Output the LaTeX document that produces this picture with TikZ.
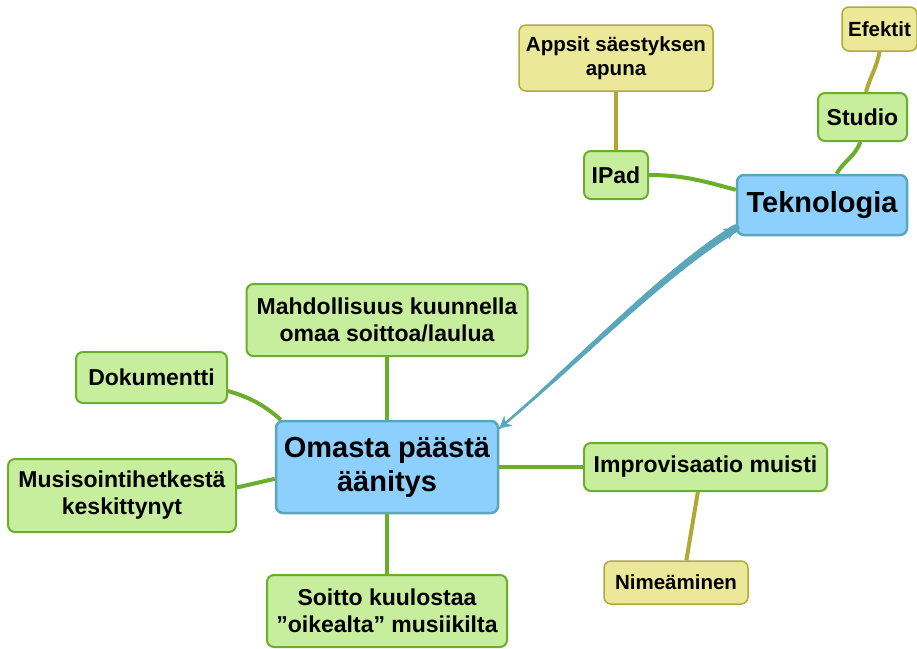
\documentclass[tikz,border=0pt]{standalone}
\usepackage{fontspec}
\setmainfont{Liberation Sans}
\usetikzlibrary{arrows.meta,decorations.markings}
\definecolor{topicfill}{HTML}{8DCFFD}
\definecolor{topicline}{HTML}{5AA7BC}
\definecolor{ideafill}{HTML}{C6EE9C}
\definecolor{idealine}{HTML}{6AAE2B}
\definecolor{notefill}{HTML}{ECE89A}
\definecolor{noteline}{HTML}{B0AA35}
\begin{document}
\begin{tikzpicture}[x=1pt, y=-1pt,
    topic/.style = {draw=topicline, fill=topicfill, line width=2.5pt, rounded corners=7pt, align=center, inner sep=0pt, font=\fontsize{29}{34}\selectfont\bfseries},
    idea/.style = {draw=idealine, fill=ideafill, line width=2pt, rounded corners=7pt, align=center, inner sep=0pt, font=\fontsize{23}{27}\selectfont\bfseries},
    note/.style = {draw=noteline, fill=notefill, line width=1.5pt, rounded corners=7pt, align=center, inner sep=0pt, font=\fontsize{20.5}{24}\selectfont\bfseries},
    branch/.style = {draw=idealine, line width=4pt},
    twig/.style = {draw=noteline, line width=4pt},
    link/.style = {postaction={decorate, decoration={markings,
        mark=between positions 0 and 1 step 1pt with {\pgfmathsetmacro\linkwd{1.4+2.6*(1-\pgfkeysvalueof{/pgf/decoration/mark info/distance from start}/\pgfdecoratedpathlength)}\fill[topicline] (0,0) circle (\linkwd pt);}}},
        postaction={decorate, decoration={markings,
        mark=at position 0 with {\arrowreversed[topicline]{Stealth[length=12pt,width=13pt]}},
        mark=at position 1 with {\arrow[topicline]{Stealth[length=12pt,width=13pt]}}}}}]
        \useasboundingbox (0,0) rectangle (917,648);
        \node[topic, minimum width=222pt, minimum height=92pt] (omasta) at (387,467) {Omasta päästä\\äänitys};
        \node[topic, minimum width=170pt, minimum height=60pt] (tekno) at (822,205) {Teknologia};
        \node[idea, minimum width=281pt, minimum height=72pt] (mahd) at (387,320) {Mahdollisuus kuunnella\\omaa soittoa/laulua};
        \node[idea, minimum width=151pt, minimum height=51pt] (doku) at (151.5,377.5) {Dokumentti};
        \node[idea, minimum width=228pt, minimum height=73pt] (musi) at (122,495.5) {Musisointihetkestä\\keskittynyt};
        \node[idea, minimum width=240pt, minimum height=72pt] (soitto) at (387,611) {Soitto kuulostaa\\”oikealta” musiikilta};
        \node[idea, minimum width=243pt, minimum height=48pt] (impro) at (705.5,467) {Improvisaatio muisti};
        \node[note, minimum width=144pt, minimum height=43pt] (nime) at (676,582.5) {Nimeäminen};
        \node[idea, minimum width=64pt, minimum height=48pt] (ipad) at (616,175) {IPad};
        \node[note, minimum width=194pt, minimum height=66pt] (apps) at (616,58) {Appsit säestyksen\\apuna};
        \node[idea, minimum width=89pt, minimum height=48pt] (studio) at (862.5,117) {Studio};
        \node[note, minimum width=75pt, minimum height=44pt] (efekt) at (879.5,29) {Efektit};
        \draw[branch] (mahd) -- (omasta);
        \draw[branch] (doku.-10) to[bend left=12] (omasta.156);
        \draw[branch] (musi.4) -- (omasta.186);
        \draw[branch] (soitto) -- (omasta);
        \draw[branch] (impro) -- (omasta);
        \draw[twig] (nime.65) -- (impro.253);
        \draw[branch] (ipad.east) to[out=0, in=165] (tekno.170);
        \draw[twig] (apps) -- (ipad);
        \draw[branch] (studio.265) to[out=-110, in=60] (tekno.65);
        \draw[twig] (efekt.south) to[out=-100, in=75] (studio.82);
        \path[link] (tekno.195) .. controls (660,275) and (575,365) .. (omasta.19);
    \end{tikzpicture}
\end{document}
